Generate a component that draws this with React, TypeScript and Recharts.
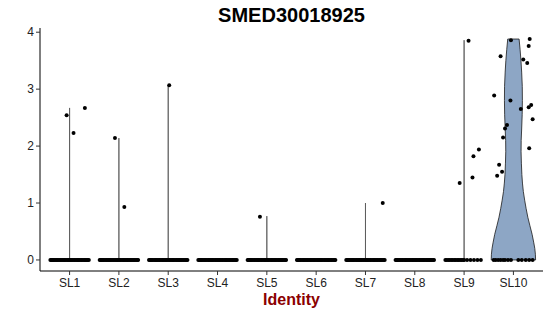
import { ComposedChart, Scatter, XAxis, YAxis } from 'recharts';

// identity classes on the x axis
const categories = ['SL1', 'SL2', 'SL3', 'SL4', 'SL5', 'SL6', 'SL7', 'SL8', 'SL9', 'SL10'];

// max expression per class (violins are trimmed to the data range)
const violinMax = [2.67, 2.14, 3.07, 0, 0.77, 0, 1.0, 0, 3.86, 3.88];

// SL10 violin: relative density at each expression level
const sl10Levels = [0, 0.1, 0.2, 0.3, 0.45, 0.6, 0.75, 0.9, 1.05, 1.2, 1.35, 1.5, 1.7, 1.9, 2.1, 2.3, 2.55, 2.8, 3.05, 3.3, 3.5, 3.7, 3.88];
const sl10Density = [1.0, 0.991, 0.964, 0.919, 0.843, 0.744, 0.65, 0.574, 0.507, 0.448, 0.408, 0.381, 0.359, 0.345, 0.35, 0.372, 0.395, 0.404, 0.399, 0.372, 0.341, 0.3, 0.256];

// non-zero cells: expression and jitter offset
const sl1Expr = [2.54, 2.23, 2.67];
const sl1Jitter = [-0.06, 0.08, 0.31];
const sl2Expr = [2.14, 0.93];
const sl2Jitter = [-0.08, 0.11];
const sl3Expr = [3.07];
const sl3Jitter = [0.02];
const sl5Expr = [0.76];
const sl5Jitter = [-0.14];
const sl7Expr = [1.0];
const sl7Jitter = [0.35];
const sl9Expr = [3.85, 1.35, 1.45, 1.82, 1.94];
const sl9Jitter = [0.09, -0.09, 0.17, 0.19, 0.3];
const sl10Expr = [3.86, 3.88, 3.76, 3.58, 3.52, 3.46, 2.89, 2.8, 2.65, 2.68, 2.72, 2.47, 2.37, 2.31, 2.15, 1.96, 1.67, 1.55, 1.48];
const sl10Jitter = [-0.05, 0.33, 0.31, -0.26, 0.2, 0.28, -0.39, -0.06, 0.15, 0.31, 0.36, 0.39, -0.13, -0.17, -0.21, 0.32, -0.29, -0.23, -0.33];

// zero cells: jitter offsets
const denseZeroJitter = [-0.39, -0.37, -0.35, -0.33, -0.31, -0.285, -0.26, -0.24, -0.215, -0.19, -0.17, -0.145, -0.12, -0.1, -0.075, -0.05, -0.03, -0.005, 0.02, 0.04, 0.065, 0.09, 0.11, 0.135, 0.16, 0.18, 0.205, 0.23, 0.25, 0.275, 0.3, 0.32, 0.345, 0.37, 0.39];
const sl9ZeroJitter = [-0.38, -0.35, -0.32, -0.29, -0.26, -0.23, -0.2, -0.17, -0.14, -0.11, -0.08, -0.05, -0.02, 0.0, 0.06, 0.13, 0.2, 0.27, 0.34];
const sl10ZeroJitter = [-0.4, -0.36, -0.31, -0.26, -0.21, -0.17, -0.11, -0.05, 0.1, 0.17, 0.25, 0.32, 0.39];

const VIOLIN_FILL = '#8DA6C5';
const FONT = '"Liberation Sans", Arial, sans-serif';

type Pt = { x: number; y: number };

const violinOutline = (cat: number, levels: number[], dens: number[]): Pt[] => {
  const left = levels.map((v, i) => ({ x: cat - dens[i] * 0.45, y: v }));
  const right = levels.map((v, i) => ({ x: cat + dens[i] * 0.45, y: v })).reverse();
  return [...left, ...right, left[0]];
};

// thin violins (almost all zeros) show only as a hairline
const violins = violinMax
  .map((max, i) => {
    const cat = i + 1;
    if (categories[i] === 'SL10') return { pts: violinOutline(cat, sl10Levels, sl10Density), thin: false };
    if (max === 0) return null;
    return { pts: violinOutline(cat, [0, max], [0, 0]), thin: true };
  })
  .filter((v) => v !== null) as { pts: Pt[]; thin: boolean }[];

const cells = (cat: number, expr: number[], jitter: number[]): Pt[] =>
  expr.map((v, i) => ({ x: cat + jitter[i], y: v }));

const zeros = (cat: number, jitter: number[]): Pt[] => jitter.map((j) => ({ x: cat + j, y: 0 }));

const points: Pt[] = [
  ...[1, 2, 3, 4, 5, 6, 7, 8].flatMap((c) => zeros(c, denseZeroJitter)),
  ...zeros(9, sl9ZeroJitter),
  ...zeros(10, sl10ZeroJitter),
  ...cells(1, sl1Expr, sl1Jitter),
  ...cells(2, sl2Expr, sl2Jitter),
  ...cells(3, sl3Expr, sl3Jitter),
  ...cells(5, sl5Expr, sl5Jitter),
  ...cells(7, sl7Expr, sl7Jitter),
  ...cells(9, sl9Expr, sl9Jitter),
  ...cells(10, sl10Expr, sl10Jitter),
];

const tickStyle = { fontSize: 12, fill: '#222', fontFamily: FONT };

export default function App() {
  return (
    <div style={{ position: 'absolute', left: 0, top: 0, width: 550, height: 316, background: '#fff' }}>
      <div
        style={{
          position: 'absolute', left: 40, width: 503, top: 5, textAlign: 'center',
          fontFamily: FONT, fontWeight: 'bold', fontSize: 20, lineHeight: '20px', color: '#000',
        }}
      >
        SMED30018925
      </div>
      <ComposedChart width={550} height={316} margin={{ top: 28, right: 7, bottom: 0, left: 0 }}>
        <XAxis
          type="number"
          dataKey="x"
          domain={[0.4, 10.6]}
          ticks={[1, 2, 3, 4, 5, 6, 7, 8, 9, 10]}
          interval={0}
          allowDataOverflow
          tickFormatter={(v: number) => categories[v - 1]}
          height={45}
          tickSize={4}
          tickMargin={3}
          axisLine={{ stroke: '#000', strokeWidth: 1 }}
          tickLine={{ stroke: '#333' }}
          tick={tickStyle}
        />
        <YAxis
          type="number"
          dataKey="y"
          domain={[-0.194, 4.074]}
          ticks={[0, 1, 2, 3, 4]}
          interval={0}
          allowDataOverflow
          width={40}
          tickSize={4}
          tickMargin={2}
          axisLine={{ stroke: '#000', strokeWidth: 1 }}
          tickLine={{ stroke: '#333' }}
          tick={tickStyle}
        />
        {violins.map((v, i) => (
          <Scatter
            key={'v' + i}
            data={v.pts}
            isAnimationActive={false}
            shape={() => <g />}
            line={{
              fill: VIOLIN_FILL,
              stroke: v.thin ? '#555' : '#1a1a1a',
              strokeWidth: 0.8,
            }}
            lineType="joint"
          />
        ))}
        <Scatter
          data={points}
          isAnimationActive={false}
          shape={(p: any) => <circle cx={p.cx} cy={p.cy} r={2} fill="#000" />}
        />
      </ComposedChart>
      <div
        style={{
          position: 'absolute', left: 40, width: 503, top: 291.5, textAlign: 'center',
          fontFamily: FONT, fontWeight: 'bold', fontSize: 16, lineHeight: '16px', color: '#8B0000',
        }}
      >
        Identity
      </div>
    </div>
  );
}
